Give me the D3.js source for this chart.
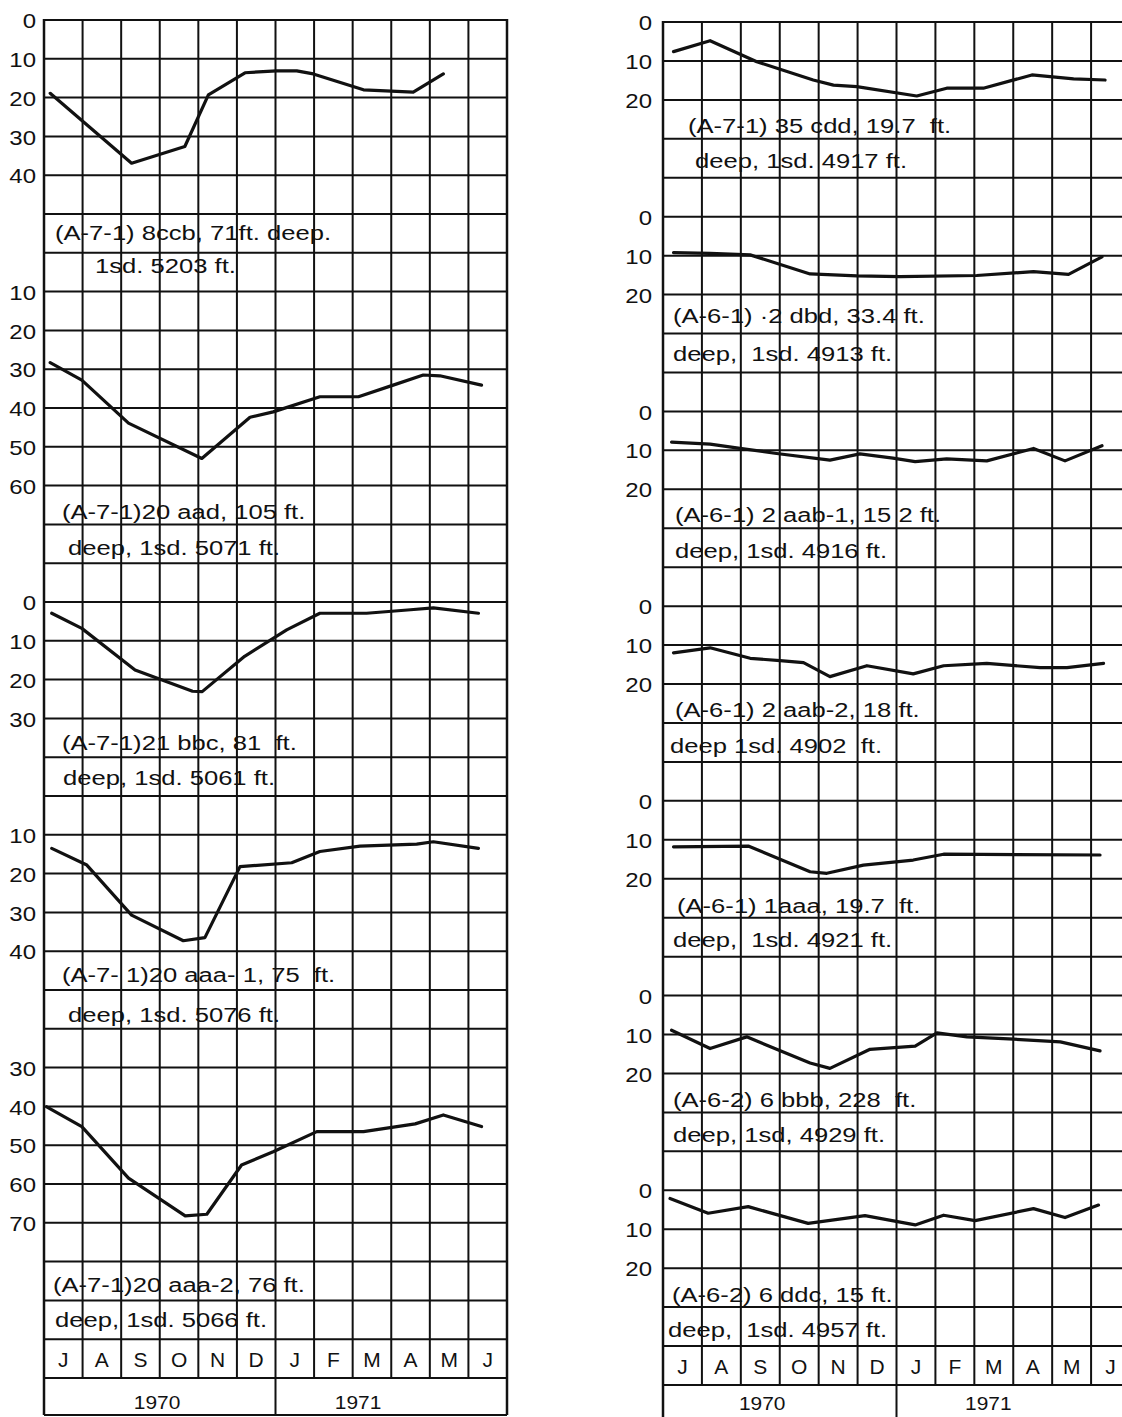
<!DOCTYPE html>
<html><head><meta charset="utf-8">
<script src="https://cdn.jsdelivr.net/npm/d3@7"></script>
<style>
html,body{margin:0;padding:0;background:#fff;}
svg{display:block;}
text{font-family:"Liberation Sans", Arial, Helvetica, sans-serif; fill:#111;}
</style></head><body>
<svg id="chart" width="1122" height="1417"></svg>
<script>
// ---------- categories ----------
const months = ["J","A","S","O","N","D","J","F","M","A","M","J"];
const years = ["1970","1971"];

// ---------- tick labels (depth to water, feet below land surface) ----------
const ticks0to40 = [0,10,20,30,40];
const ticks10to60 = [10,20,30,40,50,60];
const ticks0to30 = [0,10,20,30];
const ticks10to40 = [10,20,30,40];
const ticks30to70 = [30,40,50,60,70];
const ticks0to20 = [0,10,20];

// ---------- series: [months after 1 July 1970, depth in feet] ----------
const w8ccb = [[0.16,18.9],[2.27,36.9],[3.65,32.6],[4.26,19.3],[5.21,13.6],[6.03,13.1],[6.55,13.1],[6.98,13.9],[8.28,18.0],[9.57,18.6],[10.35,13.9]];
const w20aad = [[0.16,28.3],[0.98,32.8],[2.19,43.9],[4.09,53.0],[5.34,42.4],[5.94,41.0],[7.15,37.1],[8.15,37.1],[9.05,34.1],[9.83,31.5],[10.26,31.7],[11.34,34.1]];
const w21bbc = [[0.20,2.9],[0.98,6.8],[2.36,17.5],[3.85,23.0],[4.1,23.1],[5.2,14.0],[6.29,7.2],[7.15,2.9],[8.36,2.9],[9.5,2.0],[10.09,1.5],[11.26,2.9]];
const w20aaa1 = [[0.20,13.5],[1.11,17.8],[2.27,30.7],[3.61,37.3],[4.17,36.5],[5.08,18.2],[6.42,17.2],[7.15,14.3],[8.19,12.9],[9.66,12.4],[10.09,11.8],[11.26,13.5]];
const w20aaa2 = [[0.07,40.1],[0.98,45.2],[2.19,58.5],[3.66,68.2],[4.22,67.8],[5.12,55.1],[5.94,51.7],[7.07,46.5],[8.28,46.5],[9.62,44.5],[10.35,42.2],[11.34,45.2]];

const w35cdd = [[0.27,7.6],[1.21,4.8],[2.41,10.2],[3.86,14.9],[4.38,16.2],[4.98,16.6],[6.52,19.0],[7.29,17.0],[8.23,17.0],[9.48,13.6],[10.55,14.6],[11.36,14.9]];
const w2dbd = [[0.27,9.2],[1.21,9.4],[2.24,9.8],[3.78,14.7],[4.98,15.2],[6.09,15.4],[8.06,15.1],[9.52,14.1],[10.42,14.8],[11.28,10.3]];
const w2aab1 = [[0.22,7.9],[1.21,8.4],[1.98,9.5],[2.92,10.8],[4.29,12.5],[5.06,10.9],[5.91,12.0],[6.48,12.9],[7.29,12.2],[8.32,12.7],[9.52,9.5],[10.33,12.7],[11.28,8.8]];
const w2aab2 = [[0.27,12.0],[1.21,10.7],[2.24,13.4],[3.01,14.0],[3.61,14.5],[4.29,18.1],[5.24,15.3],[6.43,17.4],[7.21,15.3],[8.32,14.7],[9.69,15.8],[10.38,15.8],[11.32,14.7]];
const w1aaa = [[0.27,11.8],[2.19,11.6],[3.78,18.2],[4.21,18.6],[5.15,16.5],[6.43,15.2],[7.21,13.7],[11.23,13.9]];
const w6bbb = [[0.22,8.9],[1.21,13.6],[2.15,10.6],[3.78,17.3],[4.29,18.7],[5.32,13.8],[6.48,13.0],[7.04,9.6],[7.81,10.6],[9.01,11.2],[10.21,11.9],[11.23,14.2]];
const w6ddc = [[0.18,2.1],[1.16,5.9],[2.19,4.2],[3.73,8.5],[5.19,6.5],[6.48,8.9],[7.21,6.4],[8.02,7.8],[9.52,4.7],[10.33,7.0],[11.19,3.8]];

// ---------- well labels ----------
const lab8ccb = ["(A-7-1) 8ccb, 71ft. deep.", "1sd. 5203 ft."];
const lab20aad = ["(A-7-1)20 aad, 105 ft.", "deep, 1sd. 5071 ft."];
const lab21bbc = ["(A-7-1)21 bbc, 81  ft.", "deep, 1sd. 5061 ft."];
const lab20aaa1 = ["(A-7- 1)20 aaa- 1, 75  ft.", "deep, 1sd. 5076 ft."];
const lab20aaa2 = ["(A-7-1)20 aaa-2, 76 ft.", "deep, 1sd. 5066 ft."];
const lab35cdd = ["(A-7-1) 35 cdd, 19.7  ft.", "deep, 1sd. 4917 ft."];
const lab2dbd = ["(A-6-1) ·2 dbd, 33.4 ft.", "deep,  1sd. 4913 ft."];
const lab2aab1 = ["(A-6-1) 2 aab-1, 15 2 ft.", "deep, 1sd. 4916 ft."];
const lab2aab2 = ["(A-6-1) 2 aab-2, 18 ft.", "deep 1sd. 4902  ft."];
const lab1aaa = ["(A-6-1) 1aaa, 19.7  ft.", "deep,  1sd. 4921 ft."];
const lab6bbb = ["(A-6-2) 6 bbb, 228  ft.", "deep, 1sd, 4929 ft."];
const lab6ddc = ["(A-6-2) 6 ddc, 15 ft.", "deep,  1sd. 4957 ft."];

// ---------- layout ----------
const ROWS = 35;
const panels = [
  {x0:44, x1:507, y0:20, y1:1378, yearBottom:1415, drawBottom:true, tickRight:36, yearPos:[2.93,8.14], yearY:1409,
   wells:[
     {row:0, ticks:ticks0to40, data:w8ccb, label:lab8ccb, lx:[55,95], lrow:[5.67,6.52]},
     {row:6, ticks:ticks10to60, data:w20aad, label:lab20aad, lx:[62,68], lrow:[12.86,13.79]},
     {row:15, ticks:ticks0to30, data:w21bbc, label:lab21bbc, lx:[62,63], lrow:[18.81,19.72]},
     {row:20, ticks:ticks10to40, data:w20aaa1, label:lab20aaa1, lx:[62,68], lrow:[24.79,25.82]},
     {row:24, ticks:ticks30to70, data:w20aaa2, label:lab20aaa2, lx:[53,55], lrow:[32.78,33.68]}
   ]},
  {x0:663, x1:1130, y0:22, y1:1385, yearBottom:1420, drawBottom:false, tickRight:652, yearPos:[2.55,8.36], yearY:1410,
   wells:[
     {row:0, ticks:ticks0to20, data:w35cdd, label:lab35cdd, lx:[688,695], lrow:[2.84,3.74]},
     {row:5, ticks:ticks0to20, data:w2dbd, label:lab2dbd, lx:[673,673], lrow:[7.74,8.70]},
     {row:10, ticks:ticks0to20, data:w2aab1, label:lab2aab1, lx:[675,675], lrow:[12.83,13.77]},
     {row:15, ticks:ticks0to20, data:w2aab2, label:lab2aab2, lx:[675,670], lrow:[17.84,18.76]},
     {row:20, ticks:ticks0to20, data:w1aaa, label:lab1aaa, lx:[677,673], lrow:[22.87,23.74]},
     {row:25, ticks:ticks0to20, data:w6bbb, label:lab6bbb, lx:[673,673], lrow:[27.86,28.75]},
     {row:30, ticks:ticks0to20, data:w6ddc, label:lab6ddc, lx:[672,668], lrow:[32.86,33.76]}
   ]}
];

const svg = d3.select("#chart");
svg.append("rect").attr("width",1122).attr("height",1417).attr("fill","#fff");
const TICK_SX = 1.2;
const LABEL_SX = 1.28;

panels.forEach(p => {
  const g = svg.append("g");
  const x = d3.scaleLinear().domain([0,12]).range([p.x0, p.x1]);
  const rowY = d3.scaleLinear().domain([0,ROWS]).range([p.y0, p.y1]);
  const grid = g.append("g").attr("stroke","#111").attr("stroke-width",2).attr("fill","none");
  // horizontal grid
  d3.range(0, ROWS+1).forEach(k => {
    grid.append("line").attr("x1",p.x0-1).attr("x2",p.x1+1).attr("y1",rowY(k)).attr("y2",rowY(k));
  });
  // vertical grid
  d3.range(0, 13).forEach(i => {
    const ext = (i===0 || i===6 || i===12);
    grid.append("line").attr("x1",x(i)).attr("x2",x(i)).attr("y1",p.y0-1)
      .attr("y2", ext ? p.yearBottom : p.y1)
      .attr("stroke-width", (i===0||i===12) ? 2.5 : 2);
  });
  if (p.drawBottom) grid.append("line").attr("x1",p.x0).attr("x2",p.x1).attr("y1",p.yearBottom).attr("y2",p.yearBottom);

  // month labels
  g.append("g").selectAll("text").data(months).join("text")
    .attr("transform",(d,i)=>`translate(${x(i+0.5)},${rowY(34.72)}) scale(1.05,1)`)
    .attr("text-anchor","middle").attr("font-size",20).text(d=>d);
  // year labels
  g.append("g").selectAll("text").data(years).join("text")
    .attr("transform",(d,i)=>`translate(${x(p.yearPos[i])},${p.yearY}) scale(1.1,1)`)
    .attr("text-anchor","middle").attr("font-size",19).text(d=>d);

  p.wells.forEach(w => {
    const y = d3.scaleLinear().domain([0,10]).range([rowY(w.row), rowY(w.row+1)]);
    // axis (tick labels only)
    const ax = g.append("g").attr("transform",`translate(${p.tickRight},0)`)
      .call(d3.axisLeft(y).tickValues(w.ticks).tickSize(0).tickPadding(0).tickFormat(d3.format("d")));
    ax.select(".domain").remove();
    ax.selectAll("text").attr("font-size",20).attr("font-family",null).attr("fill","#111")
      .attr("x",0).attr("dy","0.38em").attr("transform",`scale(${TICK_SX},1)`);
    // series line
    const line = d3.line().x(d=>x(d[0])).y(d=>y(d[1]));
    g.append("path").datum(w.data).attr("d",line).attr("fill","none")
      .attr("stroke","#111").attr("stroke-width",3.2).attr("stroke-linejoin","round").attr("stroke-linecap","round");
    // label
    g.append("g").selectAll("text").data(w.label).join("text")
      .attr("transform",(d,i)=>`translate(${w.lx[i]},${rowY(w.lrow[i])}) scale(${LABEL_SX},1)`)
      .attr("font-size",20).style("white-space","pre").text(d=>d);
  });
});
</script>
</body></html>
